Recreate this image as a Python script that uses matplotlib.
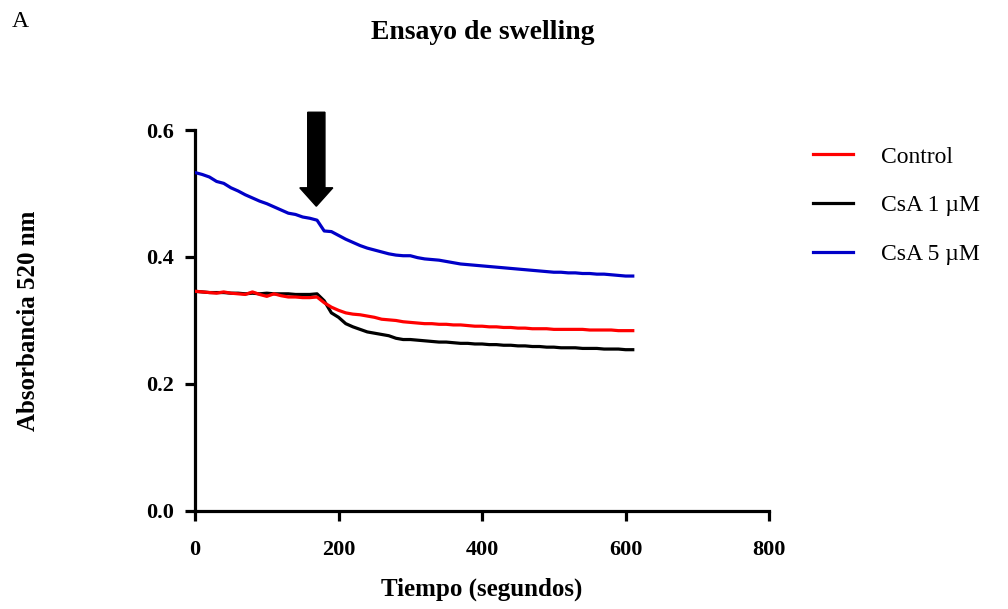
import matplotlib
matplotlib.use("Agg")
import matplotlib.pyplot as plt
from matplotlib.patches import FancyArrow
from matplotlib.lines import Line2D

plt.rcParams['font.family'] = ['Liberation Serif', 'DejaVu Serif']

# tiempo en segundos, una lectura cada 10 s
tiempo = list(range(0, 620, 10))

control = [0.346, 0.345, 0.344, 0.343, 0.345, 0.343, 0.342, 0.341, 0.345, 0.341,
           0.338, 0.342, 0.339, 0.337, 0.337, 0.336, 0.336, 0.337, 0.328, 0.321,
           0.316, 0.312, 0.310, 0.309, 0.307, 0.305, 0.302, 0.301, 0.300, 0.298,
           0.297, 0.296, 0.295, 0.295, 0.294, 0.294, 0.293, 0.293, 0.292, 0.291,
           0.291, 0.290, 0.290, 0.289, 0.289, 0.288, 0.288, 0.287, 0.287, 0.287,
           0.286, 0.286, 0.286, 0.286, 0.286, 0.285, 0.285, 0.285, 0.285, 0.284,
           0.284, 0.284]

csa_1 = [0.346, 0.345, 0.344, 0.344, 0.344, 0.343, 0.343, 0.342, 0.343, 0.342,
         0.343, 0.342, 0.342, 0.342, 0.341, 0.341, 0.341, 0.342, 0.331, 0.312,
         0.305, 0.295, 0.290, 0.286, 0.282, 0.280, 0.278, 0.276, 0.272, 0.270,
         0.270, 0.269, 0.268, 0.267, 0.266, 0.266, 0.265, 0.264, 0.264, 0.263,
         0.263, 0.262, 0.262, 0.261, 0.261, 0.260, 0.260, 0.259, 0.259, 0.258,
         0.258, 0.257, 0.257, 0.257, 0.256, 0.256, 0.256, 0.255, 0.255, 0.255,
         0.254, 0.254]

csa_5 = [0.533, 0.530, 0.526, 0.519, 0.516, 0.509, 0.504, 0.498, 0.493, 0.488,
         0.484, 0.479, 0.474, 0.469, 0.467, 0.463, 0.461, 0.458, 0.441, 0.440,
         0.434, 0.428, 0.423, 0.418, 0.414, 0.411, 0.408, 0.405, 0.403, 0.402,
         0.402, 0.399, 0.397, 0.396, 0.395, 0.393, 0.391, 0.389, 0.388, 0.387,
         0.386, 0.385, 0.384, 0.383, 0.382, 0.381, 0.380, 0.379, 0.378, 0.377,
         0.376, 0.376, 0.375, 0.375, 0.374, 0.374, 0.373, 0.373, 0.372, 0.371,
         0.370, 0.370]

etiquetas = ['Control', 'CsA 1 µM', 'CsA 5 µM']
colores = ['#ff0000', '#000000', '#0000c8']

# momento de la adición (flecha)
t_adicion = 169

fig = plt.figure(figsize=(10.08, 6.09), dpi=100)
ax = fig.add_axes([0.1935, 0.161, 0.5695, 0.6255])

ax.plot(tiempo, csa_1, color=colores[1], lw=2.3, zorder=2)
ax.plot(tiempo, control, color=colores[0], lw=2.3, zorder=3)
ax.plot(tiempo, csa_5, color=colores[2], lw=2.3, zorder=3)

ax.set_xlim(0, 800)
ax.set_ylim(0, 0.6)
ax.set_xticks([0, 200, 400, 600, 800])
ax.set_yticks([0.0, 0.2, 0.4, 0.6])
ax.set_yticklabels(['0.0', '0.2', '0.4', '0.6'])

for s in ['top', 'right']:
    ax.spines[s].set_visible(False)
for s in ['left', 'bottom']:
    ax.spines[s].set_linewidth(2.3)
ax.tick_params(width=2.3, length=7, direction='out', labelsize=16)
ax.tick_params(axis='x', pad=14)
ax.tick_params(axis='y', pad=8)
for lab in ax.get_xticklabels() + ax.get_yticklabels():
    lab.set_fontweight('bold')

ax.set_xlabel('Tiempo (segundos)', fontsize=18, fontweight='bold')
ax.xaxis.set_label_coords(0.5, -0.175)
ax.set_ylabel('Absorbancia 520 nm', fontsize=18, fontweight='bold')
ax.yaxis.set_label_coords(-0.27, 0.5)
fig.text(0.479, 0.946, 'Ensayo de swelling', fontsize=20, fontweight='bold',
         ha='center', va='center')

# flecha negra
flecha = FancyArrow(t_adicion, 0.628, 0, -0.148, width=24, head_width=46,
                    head_length=0.029, length_includes_head=True,
                    color='black', clip_on=False, zorder=5)
ax.add_patch(flecha)

handles = [Line2D([], [], color=c, lw=2.3) for c in colores]
fig.legend(handles, etiquetas, loc='upper left', bbox_to_anchor=(0.785, 0.795),
           frameon=False, fontsize=17, handlelength=1.7, handletextpad=1.2,
           labelspacing=1.15)

fig.text(0.012, 0.965, 'A', fontsize=17, va='center')

fig.savefig('out.png', dpi=100)
